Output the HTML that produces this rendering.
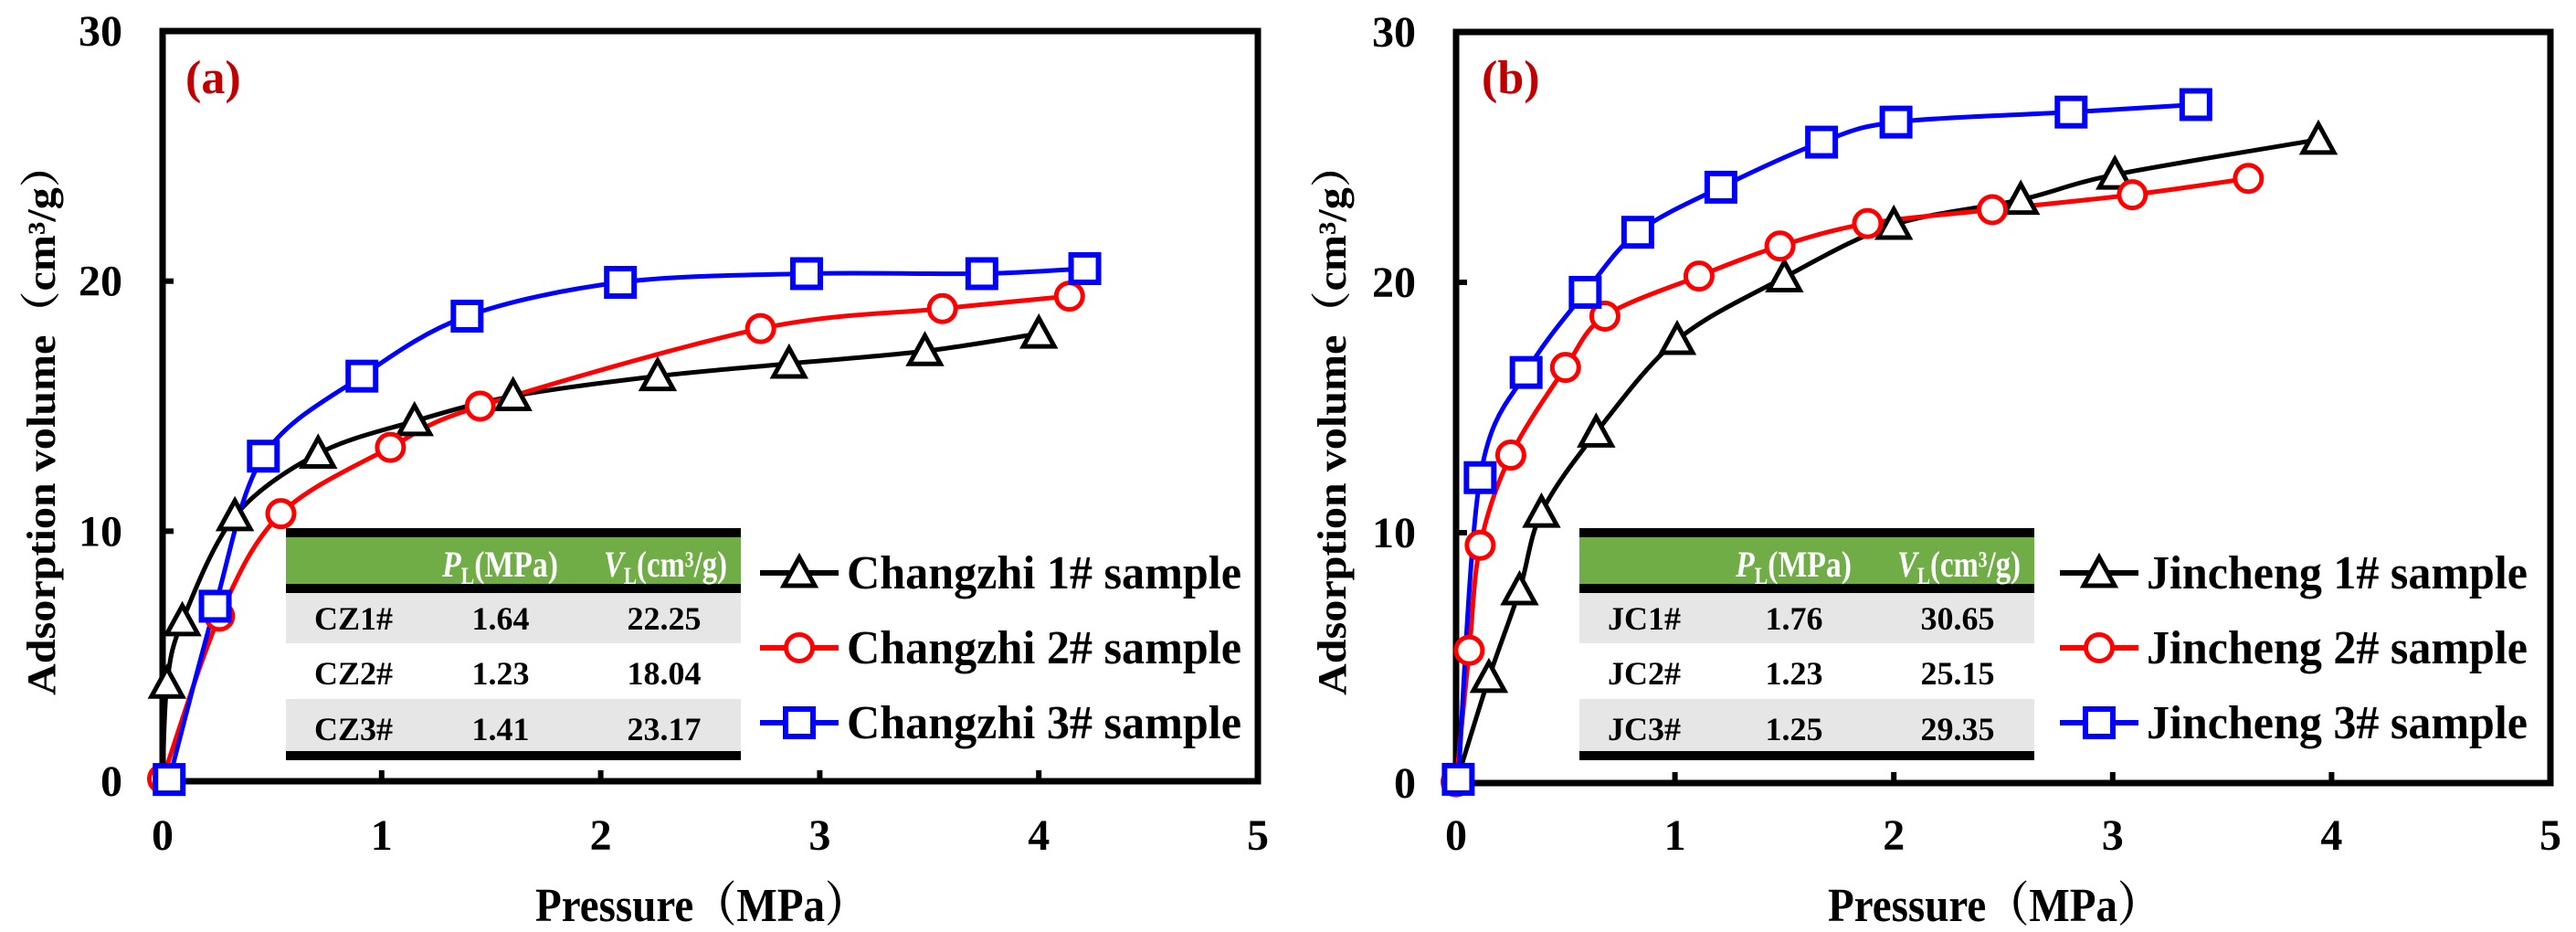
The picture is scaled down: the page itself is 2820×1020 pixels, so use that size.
<!DOCTYPE html>
<html><head><meta charset="utf-8">
<style>
html,body{margin:0;padding:0;background:#fff;}
svg{display:block;}
text{font-family:"Liberation Serif","Noto Serif CJK SC",serif;font-weight:bold;}
</style></head>
<body>
<svg id="fig" width="2820" height="1020" viewBox="0 0 2820 1020" xmlns="http://www.w3.org/2000/svg"></svg>
<script>
// Panel (a) data — Changzhi
const aS1x=[0,0.02,0.09,0.33,0.71,1.15,1.6,2.26,2.86,3.48,4.0];
const aS1y=[0,3.9,6.4,10.6,13.1,14.4,15.4,16.2,16.7,17.2,17.9];
const aS2x=[0,0.26,0.54,1.04,1.45,2.73,3.56,4.14];
const aS2y=[0.1,6.6,10.7,13.35,15.0,18.1,18.9,19.4];
const aS3x=[0.03,0.24,0.46,0.91,1.39,2.09,2.94,3.74,4.21];
const aS3y=[0.07,7.0,13.0,16.2,18.6,19.95,20.3,20.3,20.5];
const aLegend=["Changzhi 1# sample","Changzhi 2# sample","Changzhi 3# sample"];
const aTableNames=["CZ1#","CZ2#","CZ3#"];
const aTablePL=["1.64","1.23","1.41"];
const aTableVL=["22.25","18.04","23.17"];
// Panel (b) data — Jincheng
const bS1x=[0,0.15,0.29,0.39,0.64,1.01,1.5,2.0,2.58,3.01,3.94];
const bS1y=[0,4.2,7.7,10.8,14.0,17.7,20.2,22.3,23.3,24.3,25.7];
const bS2x=[0,0.06,0.11,0.25,0.5,0.68,1.11,1.48,1.88,2.45,3.09,3.62];
const bS2y=[0.05,5.3,9.5,13.1,16.6,18.65,20.25,21.45,22.35,22.9,23.5,24.15];
const bS3x=[0.01,0.11,0.32,0.59,0.83,1.21,1.67,2.01,2.81,3.38];
const bS3y=[0.15,12.2,16.4,19.6,22.0,23.8,25.6,26.4,26.8,27.1];
const bLegend=["Jincheng 1# sample","Jincheng 2# sample","Jincheng 3# sample"];
const bTableNames=["JC1#","JC2#","JC3#"];
const bTablePL=["1.76","1.23","1.25"];
const bTableVL=["30.65","25.15","29.35"];
// Axes ticks
const xTicks=[0,1,2,3,4,5];
const yTicks=[0,10,20,30];

const NS="http://www.w3.org/2000/svg";
const svg=document.getElementById('fig');
function mk(tag,attrs,parent){const e=document.createElementNS(NS,tag);for(const k in attrs)e.setAttribute(k,attrs[k]);(parent||svg).appendChild(e);return e;}

function spline(pts){
  let d="M"+pts[0][0]+","+pts[0][1];
  for(let i=0;i<pts.length-1;i++){
    const p0=pts[i-1]||pts[i],p1=pts[i],p2=pts[i+1],p3=pts[i+2]||p2;
    const t=0.16;
    const c1=[p1[0]+(p2[0]-p0[0])*t,p1[1]+(p2[1]-p0[1])*t];
    const c2=[p2[0]-(p3[0]-p1[0])*t,p2[1]-(p3[1]-p1[1])*t];
    d+=" C"+c1[0]+","+c1[1]+" "+c2[0]+","+c2[1]+" "+p2[0]+","+p2[1];
  }
  return d;
}

function marker(g,type,cx,cy,color){
  let e;
  if(type==='tri'){
    e=mk('path',{d:`M${cx},${cy-17} L${cx+17},${cy+14} L${cx-17},${cy+14} Z`,fill:'#fff',stroke:color,'stroke-width':5,'stroke-linejoin':'miter'},g);
  } else if(type==='circ'){
    e=mk('circle',{cx:cx,cy:cy,r:14.5,fill:'#fff',stroke:color,'stroke-width':5},g);
  } else {
    e=mk('rect',{x:cx-15,y:cy-15,width:30,height:30,fill:'#fff',stroke:color,'stroke-width':6},g);
  }
  return e;
}

function panel(cfg){
  const L=cfg.left,R=cfg.right,T=cfg.top,B=cfg.bottom;
  const X=v=>L+(R-L)*v/5;
  const Y=v=>B-(B-T)*v/30;
  const g=mk('g',{});
  
  
  // ticks
  xTicks.forEach(t=>{
    const tk=mk('line',{x1:X(t),y1:B,x2:X(t),y2:B-12,stroke:'#000','stroke-width':6},g);
    
    
    const tl=mk('text',{x:X(t),y:930,'font-size':48,'text-anchor':'middle',fill:'#000'},g);
    tl.textContent=t;
    
    
  });
  yTicks.forEach(t=>{
    const tk=mk('line',{x1:L,y1:Y(t),x2:L+12,y2:Y(t),stroke:'#000','stroke-width':6},g);
    
    
    const tl=mk('text',{x:L-44,y:Y(t)+16,'font-size':48,'text-anchor':'end',fill:'#000'},g);
    tl.textContent=t;
    
    
  });
  // frame
  const fr=mk('rect',{x:L,y:T,width:R-L,height:B-T,fill:'none',stroke:'#000','stroke-width':7},g);
  
  
  // panel label
  const pl=mk('text',{x:cfg.labelX,y:102,'font-size':52,fill:'#C00000'},g);
  pl.textContent=cfg.label;
  
  
  // axis titles
  const yt=mk('text',{x:0,y:0,'font-size':44,'text-anchor':'middle',transform:`translate(${cfg.ytX},459) rotate(-90)`,textLength:604,lengthAdjust:'spacingAndGlyphs',fill:'#000'},g);
  yt.textContent="Adsorption volume（cm³/g）";
  
  
  const xt=mk('text',{x:cfg.xtX,y:1008,'font-size':52,textLength:364,lengthAdjust:'spacingAndGlyphs',fill:'#000'},g);
  xt.textContent="Pressure（MPa）";
  
  

  // table
  const tx=cfg.tableX,tw=498;
  const tb=mk('g',{},g);
  
  
  mk('rect',{x:tx,y:578,width:tw,height:10,fill:'#000'},tb);
  mk('rect',{x:tx,y:588,width:tw,height:51,fill:'#70AD47'},tb);
  mk('rect',{x:tx,y:639,width:tw,height:10,fill:'#000'},tb);
  mk('rect',{x:tx,y:649,width:tw,height:55,fill:'#E7E6E6'},tb);
  mk('rect',{x:tx,y:765,width:tw,height:57,fill:'#E7E6E6'},tb);
  mk('rect',{x:tx,y:822,width:tw,height:10,fill:'#000'},tb);
  const h1=mk('text',{x:tx+171,y:631,'font-size':40,fill:'#fff','font-weight':'normal',textLength:127,lengthAdjust:'spacingAndGlyphs'},tb);
  h1.innerHTML='<tspan font-style="italic">P</tspan><tspan font-size="26" dy="8">L</tspan><tspan dy="-8">(MPa)</tspan>';
  
  
  const h2=mk('text',{x:tx+348,y:631,'font-size':40,fill:'#fff','font-weight':'normal',textLength:135,lengthAdjust:'spacingAndGlyphs'},tb);
  h2.innerHTML='<tspan font-style="italic">V</tspan><tspan font-size="26" dy="8">L</tspan><tspan dy="-8">(cm³/g)</tspan>';
  
  
  const rowsY=[689,749,810];
  cfg.names.forEach((n,i)=>{
    const a=mk('text',{x:tx+31,y:rowsY[i],'font-size':36,fill:'#000'},tb);a.textContent=n;
    
    
    const b=mk('text',{x:tx+235,y:rowsY[i],'font-size':36,'text-anchor':'middle',fill:'#000'},tb);b.textContent=cfg.pl[i];
    
    
    const c=mk('text',{x:tx+414,y:rowsY[i],'font-size':36,'text-anchor':'middle',fill:'#000'},tb);c.textContent=cfg.vl[i];
    
    
  });

  // series
  const colors=['#000','#FF0000','#0000FF'];
  const types=['tri','circ','sq'];
  cfg.series.forEach((s,k)=>{
    const sg=mk('g',{},g);
    
    
    const pts=s[0].map((v,i)=>[X(v),Y(s[1][i])]);
    const ln=mk('path',{d:spline(pts),fill:'none',stroke:colors[k],'stroke-width':5,'stroke-linejoin':'round'},sg);
    
    
  });
  cfg.series.forEach((s,k)=>{
    s[0].forEach((v,i)=>{
      if(k===0 && i===0) return;
      const m=marker(g,types[k],X(v),Y(s[1][i]),colors[k]);
      
      
    });
  });
  // legend
  const legY=[627,709,791];
  cfg.legend.forEach((t,k)=>{
    const lg=mk('g',{},g);
    
    
    mk('line',{x1:cfg.legX,y1:legY[k],x2:cfg.legX+86,y2:legY[k],stroke:colors[k],'stroke-width':6},lg);
    marker(lg,types[k],cfg.legX+43,legY[k],colors[k]);
    const tt=mk('text',{x:cfg.legX+95,y:legY[k]+17,'font-size':52,textLength:cfg.legW,lengthAdjust:'spacingAndGlyphs',fill:'#000'},lg);
    tt.textContent=t;
  });
}

panel({id:'changzhi',left:178,right:1377,top:34,bottom:855,label:'(a)',labelX:203,ytX:60,xtX:586,tableX:313,
  names:aTableNames,pl:aTablePL,vl:aTableVL,legend:aLegend,legX:832,legW:432,
  series:[[aS1x,aS1y],[aS2x,aS2y],[aS3x,aS3y]]});
panel({id:'jincheng',left:1594,right:2792,top:35,bottom:857,label:'(b)',labelX:1622,ytX:1473,xtX:2001,tableX:1729,
  names:bTableNames,pl:bTablePL,vl:bTableVL,legend:bLegend,legX:2255,legW:417,
  series:[[bS1x,bS1y],[bS2x,bS2y],[bS3x,bS3y]]});
</script>
</body></html>
